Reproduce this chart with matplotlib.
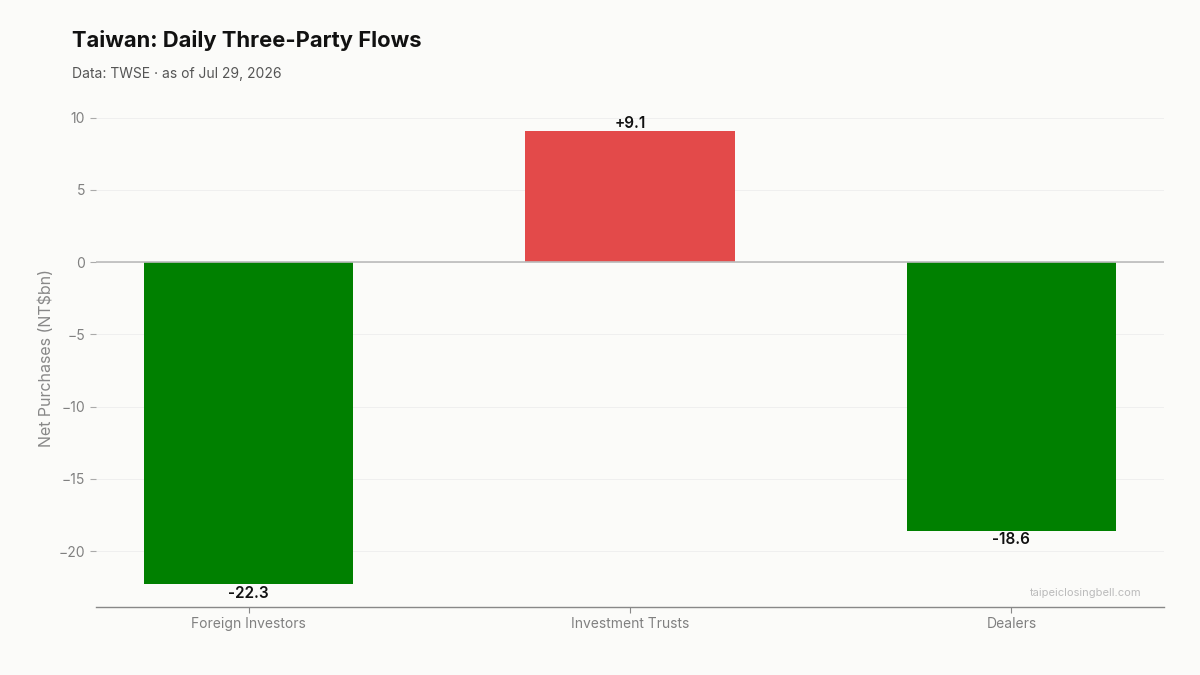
import matplotlib.pyplot as plt
import numpy as np

# Data
categories = ['Foreign Investors', 'Investment Trusts', 'Dealers']
net_flows = [-22.3, 9.1, -18.6]

plt.rcParams['font.family'] = ['Inter', 'DejaVu Sans']

BG = '#fbfbf9'
GREEN = '#008000'
RED = '#e34a4a'

fig = plt.figure(figsize=(12, 6.75), dpi=100, facecolor=BG)
ax = fig.add_axes([0.08, 0.1007, 0.89, 0.7393], facecolor=BG)

x = np.arange(len(categories))
colors = [RED if v > 0 else GREEN for v in net_flows]
ax.bar(x, net_flows, width=0.55, color=colors, zorder=3)

for xi, v in zip(x, net_flows):
    label = f'{v:+.1f}'
    if v >= 0:
        ax.annotate(label, (xi, v), xytext=(0, 0), textcoords='offset points',
                    ha='center', va='bottom', fontsize=11, fontweight='semibold', color='#111111')
    else:
        ax.annotate(label, (xi, v), xytext=(0, -1), textcoords='offset points',
                    ha='center', va='top', fontsize=11, fontweight='semibold', color='#111111')

ax.axhline(0, color='#bbbbbb', linewidth=1.2, zorder=4)

ax.set_xlim(-0.4, 2.4)
ax.set_ylim(-23.87, 10.67)
ax.set_xticks(x)
ax.set_xticklabels(categories)
ax.set_yticks([10, 5, 0, -5, -10, -15, -20])
ax.set_yticklabels(['10', '5', '0', '\u22125', '\u221210', '\u221215', '\u221220'])
ax.yaxis.grid(True, color='#efefef', linewidth=0.7, zorder=0)
ax.tick_params(axis='y', length=4, width=0.8, pad=4, colors='#aaaaaa', labelcolor='#808080', labelsize=10)
ax.tick_params(axis='x', length=4, width=0.8, colors='#888888', labelcolor='#808080', labelsize=10)

for side in ['top', 'right', 'left']:
    ax.spines[side].set_visible(False)
ax.spines['bottom'].set_color('#888888')
ax.spines['bottom'].set_linewidth(1.0)

ax.set_ylabel('Net Purchases (NT$bn)', fontsize=11.5, color='#888888', labelpad=3)

fig.text(0.06, 0.94, 'Taiwan: Daily Three-Party Flows', fontsize=15.8, fontweight='bold',
         color='#111111', va='center', ha='left')
fig.text(0.06, 0.89, 'Data: TWSE \u00b7 as of Jul 29, 2026', fontsize=10, color='#555555',
         va='center', ha='left')
fig.text(0.951, 0.122, 'taipeiclosingbell.com', fontsize=8, color='#bbbbbb',
         ha='right', va='center')

fig.savefig('out.png', dpi=100, facecolor=BG)
